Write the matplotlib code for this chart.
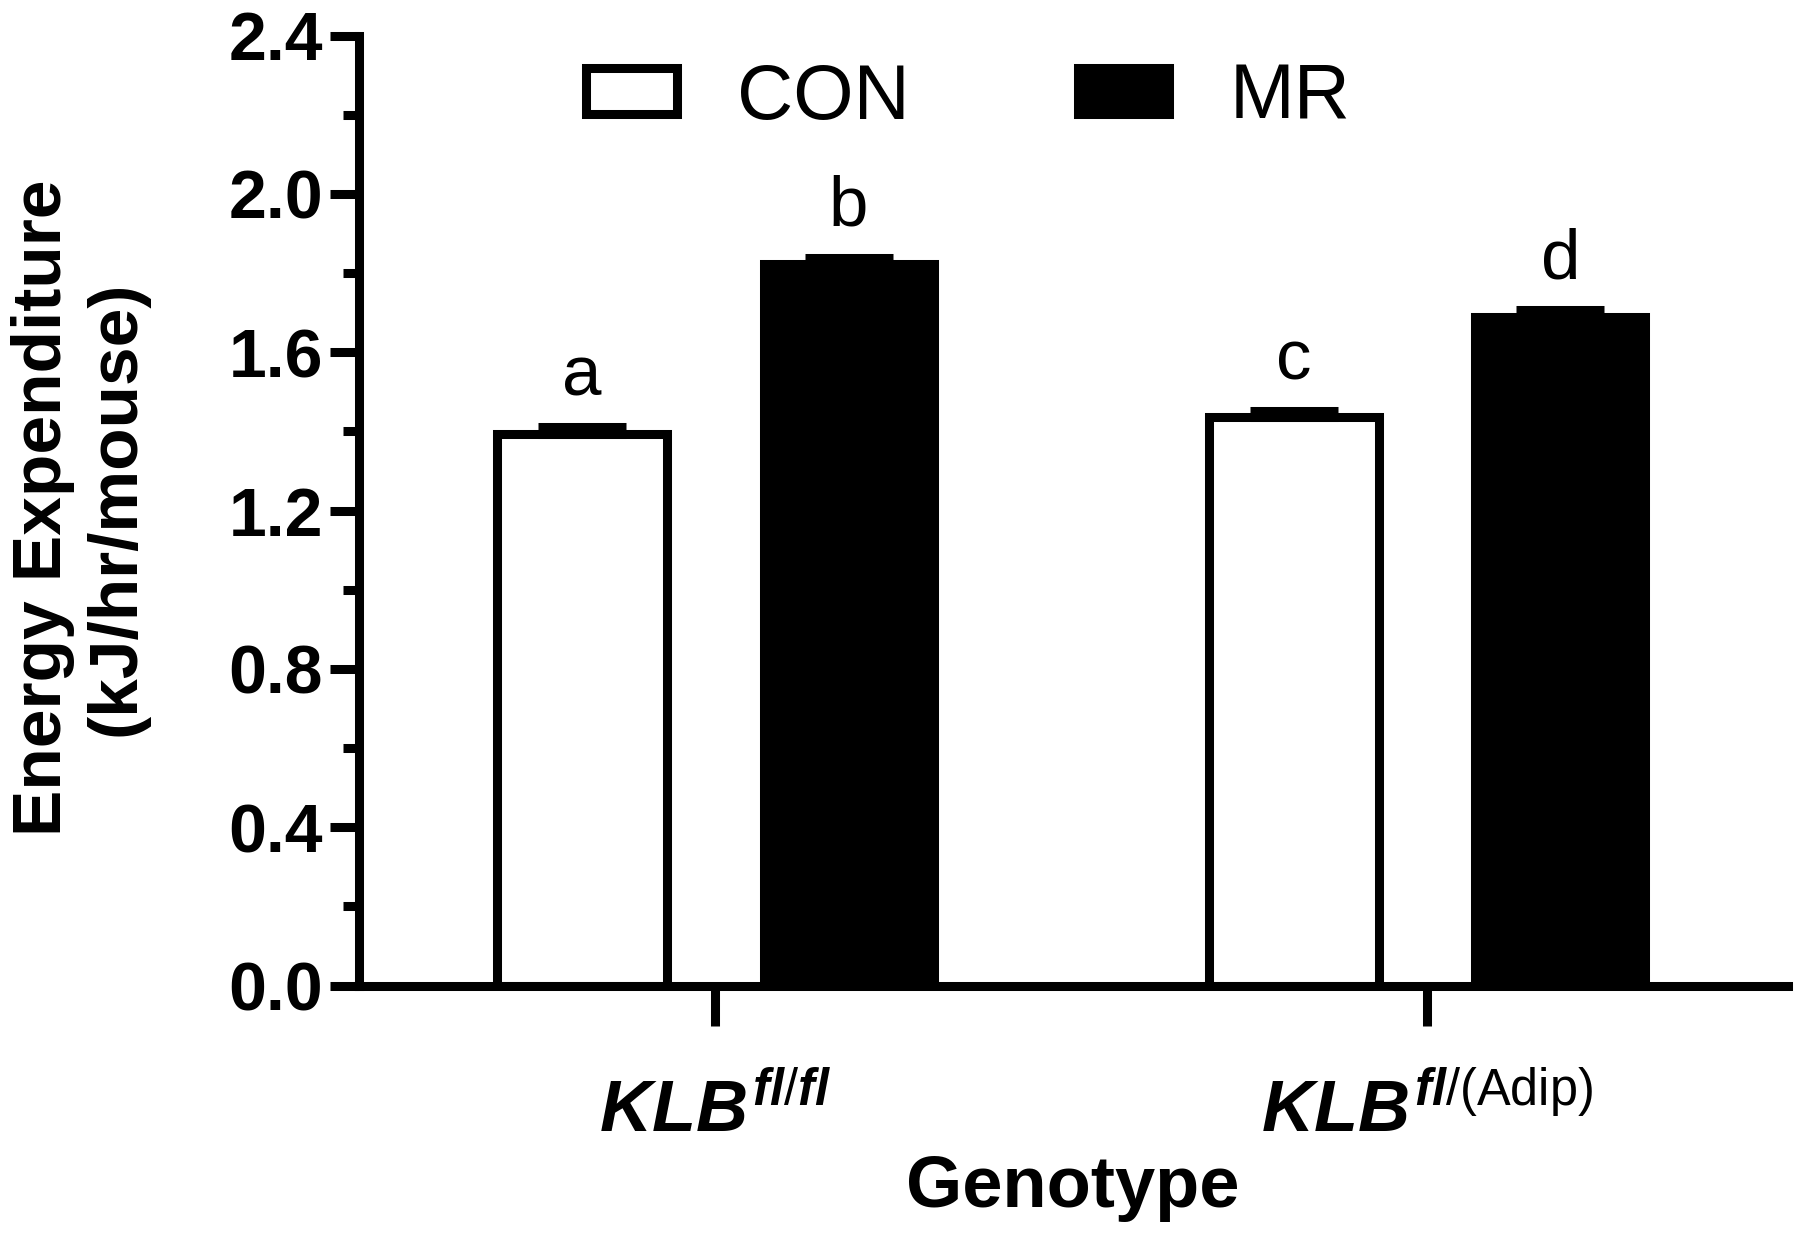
import numpy as np
import matplotlib
matplotlib.use("Agg")
import matplotlib.pyplot as plt
from matplotlib.ticker import MultipleLocator

# values
genotypes = [r"$\mathit{KLB}^{\mathit{fl/fl}}$",
             r"$\mathit{KLB}^{\mathit{fl/}\mathrm{(Adip)}}$"]
con_mean = [1.394, 1.436]
con_sem = [0.017, 0.015]
mr_mean = [1.823, 1.689]
mr_sem = [0.016, 0.017]
con_letters = ["a", "c"]
mr_letters = ["b", "d"]
yticks = [0.0, 0.4, 0.8, 1.2, 1.6, 2.0, 2.4]

plt.rcParams["font.family"] = ["Liberation Sans", "DejaVu Sans"]
plt.rcParams["mathtext.fontset"] = "custom"
plt.rcParams["mathtext.it"] = "Liberation Sans:italic:bold"
plt.rcParams["mathtext.rm"] = "Liberation Sans"
plt.rcParams["mathtext.bf"] = "Liberation Sans:bold"

W, H = 1800, 1233
fig = plt.figure(figsize=(W / 100, H / 100), dpi=100)
ax = fig.add_axes([359 / W, 1 - 985.5 / H, (1787.7 - 359) / W, 950 / H])

lw = 6.5
x = np.arange(len(genotypes))
off = 0.1873
width = 0.239

b1 = ax.bar(x - off, con_mean, width, color="white", edgecolor="black",
            linewidth=lw, label="CON", zorder=2)
b2 = ax.bar(x + off, mr_mean, width, color="black", edgecolor="black",
            linewidth=lw, label="MR", zorder=2)

for xs, m, s in [(x - off, con_mean, con_sem), (x + off, mr_mean, mr_sem)]:
    ax.errorbar(xs, m, yerr=[np.zeros(len(s)), s], fmt="none", ecolor="black",
                elinewidth=lw, capsize=32, capthick=lw, zorder=3)

for xs, m, s, lets in [(x - off, con_mean, con_sem, con_letters),
                       (x + off, mr_mean, mr_sem, mr_letters)]:
    for xi, mi, si, t in zip(xs, m, s, lets):
        ax.text(xi, mi + si + 0.08, t, ha="center", va="baseline", fontsize=51)

ax.set_xlim(-0.5006, 1.5068)
ax.set_ylim(0, 2.4)
for side in ["top", "right"]:
    ax.spines[side].set_visible(False)
for side in ["left", "bottom"]:
    ax.spines[side].set_linewidth(lw)

ax.set_yticks(yticks)
ax.set_yticklabels([f"{v:.1f}" for v in yticks], fontsize=49, fontweight="bold")
ax.yaxis.set_minor_locator(MultipleLocator(0.2))
ax.tick_params(axis="y", which="major", length=21, width=lw, pad=5)
ax.tick_params(axis="y", which="minor", length=11.5, width=lw)

ax.set_xticks(x)
ax.set_xticklabels(genotypes, fontsize=52)
ax.tick_params(axis="x", which="major", length=29, width=lw, pad=37)

ax.legend(ncol=2, frameon=False, fontsize=56, handlelength=1.17,
          handleheight=0.527, handletextpad=0.77, columnspacing=2.17,
          borderpad=0, borderaxespad=0, loc="center left",
          bbox_to_anchor=(586 / W, 1 - 98 / H), bbox_transform=fig.transFigure)

fig.text(80 / W, 1 - 508 / H, "Energy Expenditure\n(kJ/hr/mouse)",
         rotation=90, ha="center", va="center", fontsize=50,
         fontweight="bold", multialignment="center", linespacing=1.2)
fig.text(1073 / W, 1 - 1207 / H, "Genotype", ha="center", va="baseline",
         fontsize=52, fontweight="bold")

fig.savefig("out.png", dpi=100)
